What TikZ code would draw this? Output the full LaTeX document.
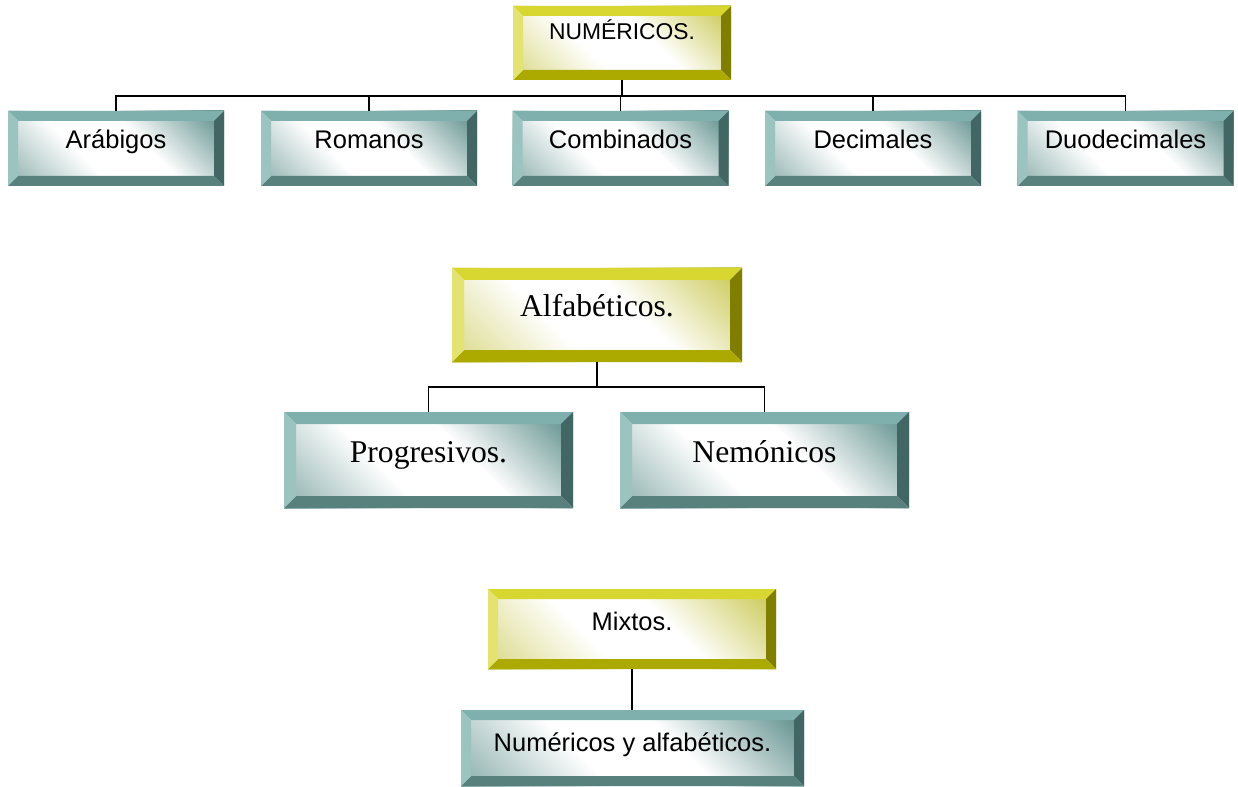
\documentclass[tikz,border=0pt]{standalone}
\usepackage{fontspec}
\setmainfont{Liberation Serif}
\setsansfont{Liberation Sans}
\usetikzlibrary{positioning}

\definecolor{tealtop}{RGB}{128,176,173}
\definecolor{tealleft}{RGB}{155,196,193}
\definecolor{tealright}{RGB}{66,102,100}
\definecolor{tealbot}{RGB}{88,128,125}
\definecolor{tealface}{RGB}{104,150,147}
\definecolor{goldtop}{RGB}{216,214,48}
\definecolor{goldleft}{RGB}{228,226,112}
\definecolor{goldright}{RGB}{128,126,0}
\definecolor{goldbot}{RGB}{172,170,0}
\definecolor{goldface}{RGB}{206,204,96}

\pgfdeclarehorizontalshading{tealshade}{100bp}{color(0bp)=(tealface!80); color(14bp)=(tealface!80);
  color(40bp)=(white); color(58bp)=(white); color(82bp)=(tealface); color(100bp)=(tealface)}
\pgfdeclarehorizontalshading{goldshade}{100bp}{color(0bp)=(goldface!80); color(14bp)=(goldface!80);
  color(40bp)=(white); color(58bp)=(white); color(82bp)=(goldface); color(100bp)=(goldface)}

\tikzset{
  bevelbox/.style 2 args={
    shading=#1shade, shading angle=45,
    path picture={
      \coordinate (pa) at (path picture bounding box.south west);
      \coordinate (pb) at (path picture bounding box.south east);
      \coordinate (pc) at (path picture bounding box.north east);
      \coordinate (pd) at (path picture bounding box.north west);
      \fill[#1top] (pd) -- (pc) -- ([shift={(-#2,-#2)}]pc) -- ([shift={(#2,-#2)}]pd) -- cycle;
      \fill[#1right] (pc) -- (pb) -- ([shift={(-#2,#2)}]pb) -- ([shift={(-#2,-#2)}]pc) -- cycle;
      \fill[#1bot] (pb) -- (pa) -- ([shift={(#2,#2)}]pa) -- ([shift={(-#2,#2)}]pb) -- cycle;
      \fill[#1left] (pa) -- (pd) -- ([shift={(#2,-#2)}]pd) -- ([shift={(#2,#2)}]pa) -- cycle;
    }},
  headbox/.style={bevelbox={gold}{0.2cm}, inner sep=0pt,
    font=\sffamily\fontsize{14.5}{16}\selectfont, text height=0.36cm, text depth=0.34cm},
  leafbox/.style={bevelbox={teal}{0.2cm}, inner sep=0pt, minimum width=4.32cm, minimum height=1.5cm,
    font=\sffamily\fontsize{14.5}{16}\selectfont, text height=0.36cm, text depth=0.36cm},
  bighead/.style={bevelbox={gold}{0.24cm}, inner sep=0pt,
    font=\fontsize{18}{20}\selectfont, text height=0.42cm, text depth=0.36cm},
  bigleaf/.style={bevelbox={teal}{0.24cm}, inner sep=0pt, minimum width=5.78cm, minimum height=1.92cm,
    font=\fontsize{18}{20}\selectfont, text height=0.42cm, text depth=0.32cm},
  link/.style={line width=1.1pt}
}

\begin{document}
\begin{tikzpicture}
\useasboundingbox (0,0) rectangle (24.76,15.72);

% numericos
\node [headbox, minimum width=4.36cm, minimum height=1.48cm, text depth=0.48cm,
  font=\sffamily\fontsize{13}{15}\selectfont] (num) at (12.44,14.86) {NUMÉRICOS.};
\node [leafbox] (arab) at (2.32,12.75) {Arábigos};
\node [leafbox] (rom) at (7.38,12.75) {Romanos};
\node [leafbox] (comb) at (12.41,12.75) {Combinados};
\node [leafbox] (dec) at (17.46,12.75) {Decimales};
\node [leafbox] (duo) at (22.51,12.75) {Duodecimales};

\foreach \c in {arab,rom,comb,dec,duo}
  \draw[link] (num.south) -- ++(0,-0.32) -| (\c.north);

% alfabeticos
\node [bighead, minimum width=5.8cm, minimum height=1.88cm] (alf) at (11.94,9.42) {Alfabéticos.};
\node [bigleaf] (prog) at (8.57,6.52) {Progresivos.};
\node [bigleaf] (nem) at (15.29,6.52) {Nemónicos};

\foreach \c in {prog,nem}
  \draw[link] (alf.south) -- ++(0,-0.5) -| (\c.north);

% mixtos
\node [headbox, minimum width=5.76cm, minimum height=1.6cm, text depth=0.32cm] (mix) at (12.64,3.14) {Mixtos.};
\node [leafbox, minimum width=6.86cm, minimum height=1.52cm, text depth=0.24cm] (numalf) at (12.65,0.76) {Numéricos y alfabéticos.};

\draw[link] (mix.south) -- (mix.south |- numalf.north);
\end{tikzpicture}
\end{document}
